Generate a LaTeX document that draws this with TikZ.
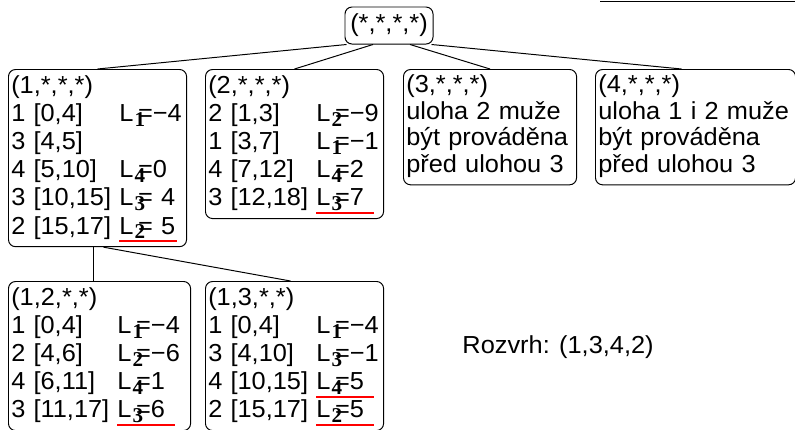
\documentclass[tikz,border=0pt]{standalone}
\usepackage{fontspec}
\setmainfont{Liberation Sans}[FakeStretch=1.03]
\newfontfamily\subfnt{Liberation Serif}
\newcommand{\Lsub}[1]{L\kern0.8pt\rlap{\raisebox{-3.3pt}{\fontsize{15}{15}\subfnt\bfseries #1}}\kern2.5pt}
\newcommand{\redul}{\rlap{\color{red}\rule[-6pt]{1.43cm}{1.7pt}}}
\begin{document}
\begin{tikzpicture}[x=0.025cm, y=-0.025cm, line width=0.7pt,
    font=\fontsize{17.5}{20}\selectfont,
    uzel/.style={draw, rounded corners=5pt, anchor=north west, inner xsep=2pt, inner ysep=3pt, align=left},
    uzel3/.style={uzel, font=\fontsize{17.5}{19}\selectfont}]
  \useasboundingbox (0,0) rectangle (795,429);
  \node[uzel, anchor=center, minimum width=2.2cm, minimum height=0.925cm, align=center] (koren) at (389,25.5) {(*,*,*,*)};

  \node[uzel, text width=4.31cm] (u1) at (8,69) {\begin{tabular}{@{}l@{\ }l@{}}
    (1,*,*,*) & \\
    1 [0,4] & \Lsub{1}=−4 \\
    3 [4,5] & \\
    4 [5,10] & \Lsub{4}=0 \\
    3 [10,15] & \Lsub{3}= 4 \\
    2 [15,17] & \redul\Lsub{2}= 5
  \end{tabular}};
  \node[uzel, text width=4.31cm] (u2) at (205,69) {\begin{tabular}{@{}l@{\ }l@{}}
    (2,*,*,*) & \\
    2 [1,3] & \Lsub{2}=−9 \\
    1 [3,7] & \Lsub{1}=−1 \\
    4 [7,12] & \Lsub{4}=2 \\
    3 [12,18] & \redul\Lsub{3}=7
  \end{tabular}};
  \node[uzel3, text width=4.185cm] (u3) at (403,69) {\begin{tabular}{@{}l@{}}
    (3,*,*,*) \\ uloha 2 muže \\ být prováděna \\ před ulohou 3
  \end{tabular}};
  \node[uzel3, text width=4.86cm] (u4) at (595,69) {\begin{tabular}{@{}l@{}}
    (4,*,*,*) \\ uloha 1 i 2 muže \\ být prováděna \\ před ulohou 3
  \end{tabular}};

  \node[uzel, text width=4.41cm] (u12) at (8,281) {\begin{tabular}{@{}l@{\ }l@{}}
    (1,2,*,*) & \\
    1 [0,4] & \Lsub{1}=−4 \\
    2 [4,6] & \Lsub{2}=−6 \\
    4 [6,11] & \Lsub{4}=1 \\
    3 [11,17] & \redul\Lsub{3}=6
  \end{tabular}};
  \node[uzel, text width=4.31cm] (u13) at (205,281) {\begin{tabular}{@{}l@{\ }l@{}}
    (1,3,*,*) & \\
    1 [0,4] & \Lsub{1}=−4 \\
    3 [4,10] & \Lsub{3}=−1 \\
    4 [10,15] & \redul\Lsub{4}=5 \\
    2 [15,17] & \redul\Lsub{2}=5
  \end{tabular}};

  \node[anchor=base west, inner sep=0pt] (rozvrh) at (462,353) {Rozvrh: (1,3,4,2)};

  \draw ([xshift=0.05cm]koren.south west) -- (u1.north);
  \draw ([xshift=-0.4cm]koren.south) -- (u2.north);
  \draw ([xshift=0.525cm]koren.south) -- (u3.north);
  \draw ([xshift=-0.05cm]koren.south east) -- ([xshift=-0.35cm]u4.north);
  \draw ([xshift=-0.1cm]u1.south) -- ([xshift=-0.1cm]u1.south |- u12.north);
  \draw ([xshift=0.15cm]u1.south) -- ([xshift=-0.1cm]u13.north);

  \draw (600,1.5) -- (795,1.5);
\end{tikzpicture}
\end{document}
